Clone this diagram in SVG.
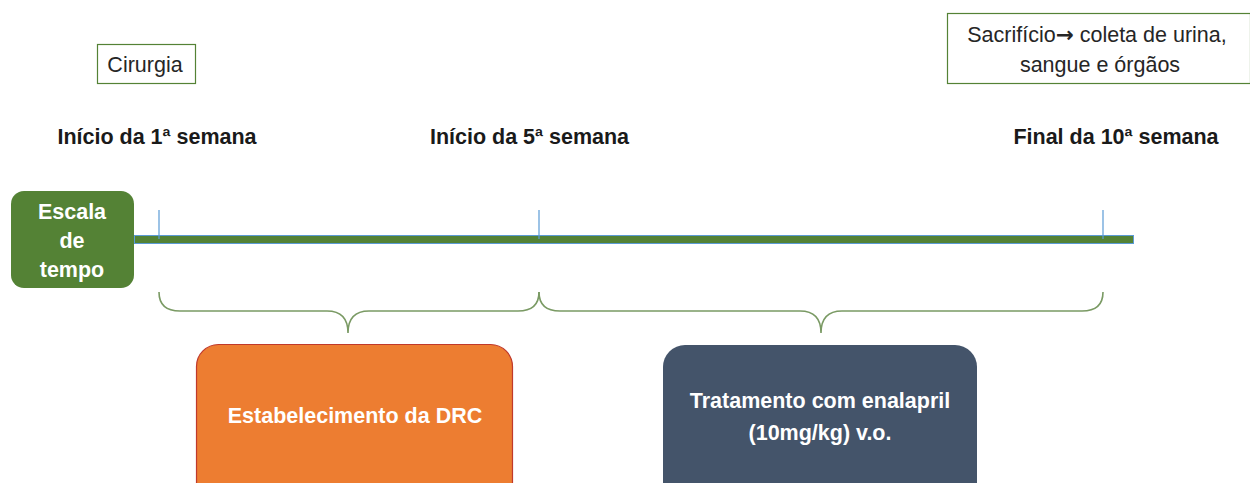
<svg xmlns="http://www.w3.org/2000/svg" width="1250" height="483" viewBox="0 0 1250 483">
<style>
.lbl{font-family:"Liberation Sans",Arial,sans-serif;font-weight:bold;font-size:21.5px;fill:#1a1a1a}
.reg{font-family:"Liberation Sans",Arial,sans-serif;font-size:21.5px;fill:#262626}
.wt{font-family:"Liberation Sans",Arial,sans-serif;font-weight:bold;font-size:21.5px;fill:#ffffff}
.arr{font-family:"DejaVu Sans",sans-serif;font-weight:bold}
.tick{stroke:#5B9BD5;stroke-width:1.2}
.brace{fill:none;stroke:#7A9A64;stroke-width:1.6}
</style>
<rect width="1250" height="483" fill="#ffffff"/>
<g id="cirurgia">
<rect x="97.5" y="44.5" width="98" height="39" fill="#ffffff" stroke="#548235" stroke-width="1.2"/>
<text class="reg" x="145" y="72" text-anchor="middle">Cirurgia</text>
</g>
<g id="sacrificio">
<rect x="947.5" y="13.5" width="303" height="70" fill="#ffffff" stroke="#548235" stroke-width="1.2"/>
<text class="reg" x="1097" y="42" text-anchor="middle">Sacrifício<tspan class="arr">→</tspan> coleta de urina,</text>
<text class="reg" x="1100" y="72" text-anchor="middle">sangue e órgãos</text>
</g>
<g id="label-inicio1"><text class="lbl" x="157" y="144" text-anchor="middle">Início da 1ª semana</text></g>
<g id="label-inicio5"><text class="lbl" x="529.5" y="144" text-anchor="middle">Início da 5ª semana</text></g>
<g id="label-final10"><text class="lbl" x="1116" y="144" text-anchor="middle">Final da 10ª semana</text></g>
<g id="escala">
<rect x="11" y="191" width="123" height="97" rx="13" fill="#548235"/>
<text class="wt" x="72" y="219" text-anchor="middle">Escala</text>
<text class="wt" x="72" y="248" text-anchor="middle">de</text>
<text class="wt" x="72" y="277" text-anchor="middle">tempo</text>
</g>
<g id="connectors">
<rect x="134.5" y="235.5" width="999" height="8" fill="#548235" stroke="#5B9BD5" stroke-width="1"/>
<line class="tick" x1="159" y1="210" x2="159" y2="239"/>
<line class="tick" x1="539" y1="210" x2="539" y2="239"/>
<line class="tick" x1="1103" y1="210" x2="1103" y2="239"/>
<path class="brace" d="M159,292 Q159,311 180,311 L327,311 Q348,311 348,333 Q348,311 369,311 L518,311 Q539,311 539,292"/>
<path class="brace" d="M539,292 Q539,311 560,311 L800,311 Q821,311 821,333 Q821,311 842,311 L1082,311 Q1103,311 1103,292"/>
</g>
<g id="drc">
<rect x="196.5" y="344.5" width="316" height="160" rx="22" fill="#ED7D31" stroke="#C0392B" stroke-width="1.2"/>
<text class="wt" x="355" y="423" text-anchor="middle">Estabelecimento da DRC</text>
</g>
<g id="enalapril">
<rect x="663" y="345" width="314" height="160" rx="22" fill="#44546A"/>
<text class="wt" x="820" y="408" text-anchor="middle">Tratamento com enalapril</text>
<text class="wt" x="820" y="440" text-anchor="middle">(10mg/kg) v.o.</text>
</g>
</svg>
